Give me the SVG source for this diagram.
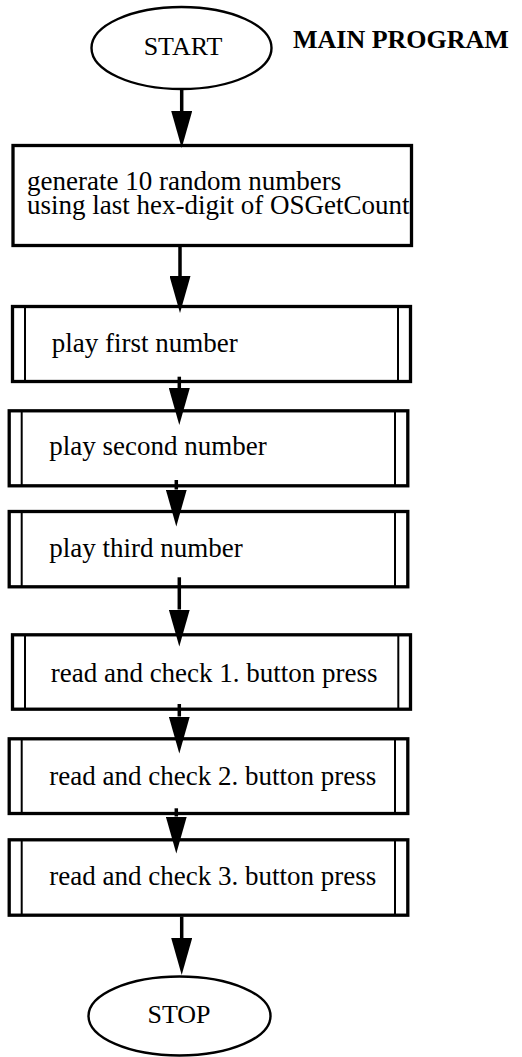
<svg xmlns="http://www.w3.org/2000/svg" width="522" height="1057" viewBox="0 0 522 1057">
<style>
text{font-family:"Liberation Serif","Times New Roman",serif;fill:#000}
.t{font-size:27px}
.c{font-size:26px;text-anchor:middle}
.h{font-size:26px;font-weight:bold}
.term{fill:#fff;stroke:#000;stroke-width:2.4}
.box{fill:#fff;stroke:#000;stroke-width:3.3}
.inner{stroke:#000;stroke-width:2}
.conn{stroke:#000;stroke-width:3.5;fill:none}
</style>
<defs>
<marker id="ah" markerUnits="userSpaceOnUse" viewBox="0 0 37 21" refX="0" refY="10.5" markerWidth="37" markerHeight="21" orient="auto">
<path d="M0,0 L37,10.5 L0,21 z" fill="#000"/>
</marker>
</defs>
<rect width="522" height="1057" fill="#fff"/>
<g id="start">
<ellipse class="term" cx="181.5" cy="48" rx="90" ry="41"/>
<text class="c" x="183" y="55">START</text>
</g>
<g id="title">
<text class="h" x="293" y="48">MAIN PROGRAM</text>
</g>
<g id="generate">
<rect class="box" x="13" y="145.5" width="398.5" height="100"/>
<text class="t" x="27" y="189.5"><tspan x="27" y="189.5">generate 10 random numbers</tspan><tspan x="27" y="213.5">using last hex-digit of OSGetCount</tspan></text>
</g>
<g id="play1">
<rect class="box" x="12.5" y="306.5" width="398" height="75"/>
<line class="inner" x1="25" y1="306.5" x2="25" y2="381.5"/>
<line class="inner" x1="398" y1="306.5" x2="398" y2="381.5"/>
<text class="t" x="51.7" y="351.7">play first number</text>
</g>
<g id="play2">
<rect class="box" x="9.2" y="410.8" width="398.6" height="75"/>
<line class="inner" x1="21.7" y1="410.8" x2="21.7" y2="485.8"/>
<line class="inner" x1="395" y1="410.8" x2="395" y2="485.8"/>
<text class="t" x="49.3" y="455">play second number</text>
</g>
<g id="play3">
<rect class="box" x="9.2" y="511.5" width="398.6" height="75.3"/>
<line class="inner" x1="21.7" y1="511.5" x2="21.7" y2="586.8"/>
<line class="inner" x1="395" y1="511.5" x2="395" y2="586.8"/>
<text class="t" x="49.3" y="556.7">play third number</text>
</g>
<g id="check1">
<rect class="box" x="12.5" y="634.8" width="398" height="74.4"/>
<line class="inner" x1="25" y1="634.8" x2="25" y2="709.2"/>
<line class="inner" x1="398.3" y1="634.8" x2="398.3" y2="709.2"/>
<text class="t" x="50.7" y="681.7">read and check 1. button press</text>
</g>
<g id="check2">
<rect class="box" x="9.2" y="738.8" width="398.6" height="74.7"/>
<line class="inner" x1="21.7" y1="738.8" x2="21.7" y2="813.5"/>
<line class="inner" x1="395" y1="738.8" x2="395" y2="813.5"/>
<text class="t" x="49.3" y="785">read and check 2. button press</text>
</g>
<g id="check3">
<rect class="box" x="9.2" y="839.8" width="398.6" height="75.4"/>
<line class="inner" x1="21.7" y1="839.8" x2="21.7" y2="915.2"/>
<line class="inner" x1="395" y1="839.8" x2="395" y2="915.2"/>
<text class="t" x="49.3" y="885">read and check 3. button press</text>
</g>
<g id="stop">
<ellipse class="term" cx="179.5" cy="1016" rx="91" ry="39.5"/>
<text class="c" x="179" y="1023.3">STOP</text>
</g>
<g id="connectors">
<path class="conn" marker-end="url(#ah)" d="M181.7,89 V111"/>
<path class="conn" marker-end="url(#ah)" d="M180,247 V276"/>
<path class="conn" marker-end="url(#ah)" d="M179.3,376.7 V388"/>
<path class="conn" marker-end="url(#ah)" d="M176.3,480 V489.5"/>
<path class="conn" marker-end="url(#ah)" d="M179.3,577.3 V609.5"/>
<path class="conn" marker-end="url(#ah)" d="M179.3,704 V716.5"/>
<path class="conn" marker-end="url(#ah)" d="M176.3,808.3 V816.5"/>
<path class="conn" marker-end="url(#ah)" d="M181.7,916.7 V938"/>
</g>
</svg>
